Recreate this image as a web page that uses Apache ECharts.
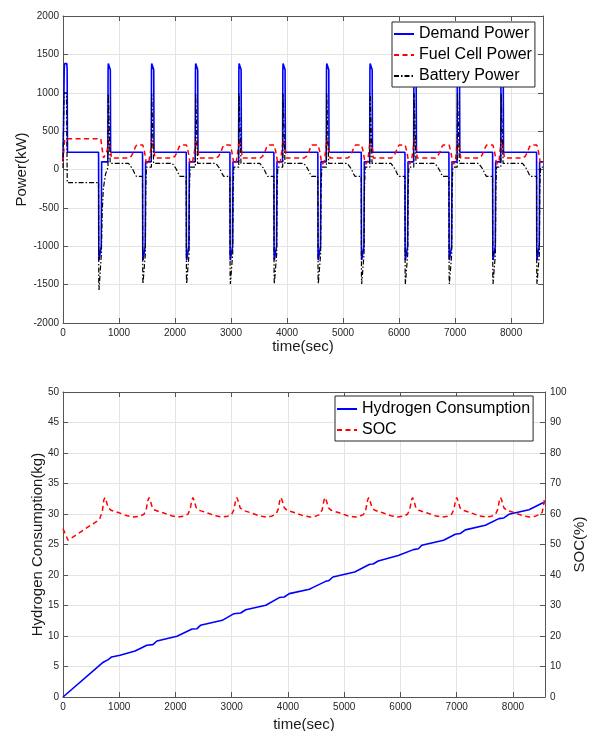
<!DOCTYPE html>
<html>
<head>
<meta charset="utf-8">
<title>Power and hydrogen</title>
<script src="https://cdn.jsdelivr.net/npm/echarts@6.0.0/dist/echarts.min.js"></script>
<style>
  html, body { margin: 0; padding: 0; background: #fff; }
  #main { width: 592px; height: 731px; }
</style>
</head>
<body>
<div id="main"></div>
<script>
// ---- data: [time (sec), value] ----
const demandPower = [
  [0,120],[22,1300],[28,1380],[68,1380],[74,1300],[80,225],
  [635,225],[639,-1100],[643,-1180],[677,-1180],[683,-1000],[690,100],
  [800,100],[805,1300],[809,1380],[841,1380],[845,1300],[850,225],
  [1420,225],[1424,-1100],[1428,-1180],[1462,-1180],[1468,-1000],[1475,100],
  [1575,100],[1580,1300],[1584,1380],[1616,1380],[1620,1300],[1625,225],
  [2200,225],[2204,-1100],[2208,-1180],[2242,-1180],[2248,-1000],[2255,100],
  [2360,100],[2365,1300],[2369,1380],[2401,1380],[2405,1300],[2410,225],
  [2980,225],[2984,-1100],[2988,-1180],[3022,-1180],[3028,-1000],[3035,100],
  [3135,100],[3140,1300],[3144,1380],[3176,1380],[3180,1300],[3185,225],
  [3765,225],[3769,-1100],[3773,-1180],[3807,-1180],[3813,-1000],[3820,100],
  [3920,100],[3925,1300],[3929,1380],[3961,1380],[3965,1300],[3970,225],
  [4550,225],[4554,-1100],[4558,-1180],[4592,-1180],[4598,-1000],[4605,100],
  [4700,100],[4705,1300],[4709,1380],[4741,1380],[4745,1300],[4750,225],
  [5325,225],[5329,-1100],[5333,-1180],[5367,-1180],[5373,-1000],[5380,100],
  [5475,100],[5480,1300],[5484,1380],[5516,1380],[5520,1300],[5525,225],
  [6105,225],[6109,-1100],[6113,-1180],[6147,-1180],[6153,-1000],[6160,100],
  [6260,100],[6265,1300],[6269,1380],[6301,1380],[6305,1300],[6310,225],
  [6890,225],[6894,-1100],[6898,-1180],[6932,-1180],[6938,-1000],[6945,100],
  [7035,100],[7040,1300],[7044,1380],[7076,1380],[7080,1300],[7085,225],
  [7670,225],[7674,-1100],[7678,-1180],[7712,-1180],[7718,-1000],[7725,100],
  [7815,100],[7820,1300],[7824,1380],[7856,1380],[7860,1300],[7865,225],
  [8455,225],[8459,-1100],[8463,-1180],[8497,-1180],[8503,-1000],[8510,100],
  [8570,100]
]

const fuelCellPower = [
  [0,100],[30,400],[675,400],[700,260],[725,150],[760,130],[790,250],[810,390],[837,390],[850,260],[865,150],
  [1180,150],[1220,175],[1260,230],[1290,290],[1315,318],[1425,318],[1455,230],[1485,100],[1505,70],[1535,110],[1565,250],[1585,390],[1612,390],[1625,260],[1640,150],
  [1960,150],[2000,175],[2040,230],[2070,290],[2095,318],[2205,318],[2235,230],[2265,100],[2285,70],[2315,110],[2350,250],[2370,390],[2397,390],[2410,260],[2425,150],
  [2740,150],[2780,175],[2820,230],[2850,290],[2875,318],[2985,318],[3015,230],[3045,100],[3065,70],[3095,110],[3125,250],[3145,390],[3172,390],[3185,260],[3200,150],
  [3525,150],[3565,175],[3605,230],[3635,290],[3660,318],[3770,318],[3800,230],[3830,100],[3850,70],[3880,110],[3910,250],[3930,390],[3957,390],[3970,260],[3985,150],
  [4310,150],[4350,175],[4390,230],[4420,290],[4445,318],[4555,318],[4585,230],[4615,100],[4635,70],[4665,110],[4690,250],[4710,390],[4737,390],[4750,260],[4765,150],
  [5085,150],[5125,175],[5165,230],[5195,290],[5220,318],[5330,318],[5360,230],[5390,100],[5410,70],[5440,110],[5465,250],[5485,390],[5512,390],[5525,260],[5540,150],
  [5865,150],[5905,175],[5945,230],[5975,290],[6000,318],[6110,318],[6140,230],[6170,100],[6190,70],[6220,110],[6250,250],[6270,390],[6297,390],[6310,260],[6325,150],
  [6650,150],[6690,175],[6730,230],[6760,290],[6785,318],[6895,318],[6925,230],[6955,100],[6975,70],[7005,110],[7025,250],[7045,390],[7072,390],[7085,260],[7100,150],
  [7430,150],[7470,175],[7510,230],[7540,290],[7565,318],[7675,318],[7705,230],[7735,100],[7755,70],[7785,110],[7805,250],[7825,390],[7852,390],[7865,260],[7880,150],
  [8215,150],[8255,175],[8295,230],[8325,290],[8350,318],[8460,318],[8490,230],[8520,100],[8540,70],[8570,100]
]

const batteryPower = [
  [0,20],[18,950],[24,1000],[62,1000],[68,500],[76,-170],[635,-170],[639,-1480],[643,-1570],[677,-1570],[685,-1100],[700,-550],[720,-250],[760,-60],[803,30],[809,990],[837,990],[843,80],
  [1170,80],[1200,50],[1230,20],[1260,-20],[1285,-60],[1310,-90],[1420,-90],[1424,-1400],[1428,-1490],[1462,-1490],[1470,-1100],[1478,-250],[1490,30],[1578,30],[1584,990],[1612,990],[1618,80],
  [1950,80],[1980,50],[2010,20],[2040,-20],[2065,-60],[2090,-90],[2200,-90],[2204,-1400],[2208,-1490],[2242,-1490],[2250,-1100],[2258,-250],[2270,30],[2363,30],[2369,990],[2397,990],[2403,80],
  [2730,80],[2760,50],[2790,20],[2820,-20],[2845,-60],[2870,-90],[2980,-90],[2984,-1400],[2988,-1490],[3022,-1490],[3030,-1100],[3038,-250],[3050,30],[3138,30],[3144,990],[3172,990],[3178,80],
  [3515,80],[3545,50],[3575,20],[3605,-20],[3630,-60],[3655,-90],[3765,-90],[3769,-1400],[3773,-1490],[3807,-1490],[3815,-1100],[3823,-250],[3835,30],[3923,30],[3929,990],[3957,990],[3963,80],
  [4300,80],[4330,50],[4360,20],[4390,-20],[4415,-60],[4440,-90],[4550,-90],[4554,-1400],[4558,-1490],[4592,-1490],[4600,-1100],[4608,-250],[4620,30],[4703,30],[4709,990],[4737,990],[4743,80],
  [5075,80],[5105,50],[5135,20],[5165,-20],[5190,-60],[5215,-90],[5325,-90],[5329,-1400],[5333,-1490],[5367,-1490],[5375,-1100],[5383,-250],[5395,30],[5478,30],[5484,990],[5512,990],[5518,80],
  [5855,80],[5885,50],[5915,20],[5945,-20],[5970,-60],[5995,-90],[6105,-90],[6109,-1400],[6113,-1490],[6147,-1490],[6155,-1100],[6163,-250],[6175,30],[6263,30],[6269,990],[6297,990],[6303,80],
  [6640,80],[6670,50],[6700,20],[6730,-20],[6755,-60],[6780,-90],[6890,-90],[6894,-1400],[6898,-1490],[6932,-1490],[6940,-1100],[6948,-250],[6960,30],[7038,30],[7044,990],[7072,990],[7078,80],
  [7420,80],[7450,50],[7480,20],[7510,-20],[7535,-60],[7560,-90],[7670,-90],[7674,-1400],[7678,-1490],[7712,-1490],[7720,-1100],[7728,-250],[7740,30],[7818,30],[7824,990],[7852,990],[7858,80],
  [8205,80],[8235,50],[8265,20],[8295,-20],[8320,-60],[8345,-90],[8455,-90],[8459,-1400],[8463,-1490],[8497,-1490],[8505,-1100],[8513,-250],[8525,30],[8570,30]
]

const hydrogenUse = [
  [0,0],[716,5.7],[805,6.13],[865,6.56],[1014,6.84],[1282,7.54],[1491,8.48],[1598,8.59],[1670,9.18],
  [2027,9.95],[2295,11.15],[2384,11.2],[2444,11.75],[2832,12.57],[3040,13.66],[3159,13.77],[3248,14.3],
  [3606,15.03],[3845,16.3],[3934,16.4],[4024,16.95],[4381,17.66],[4438,17.93],[4679,19.0],[4721,19.05],
  [4799,19.67],[5186,20.5],[5454,21.75],[5514,21.8],[5604,22.3],[5961,23.2],[6230,24.16],[6320,24.3],
  [6379,24.87],[6767,25.7],[6975,26.67],[7064,26.8],[7154,27.4],[7510,28.15],[7749,29.24],[7839,29.35],
  [7928,29.95],[8286,30.7],[8524,31.8],[8570,31.9]
]

const socLevel = [
  [0,55.2],[90,51.4],[650,58.2],[700,61],[725,64.5],[745,65.4],[765,64.5],[805,62],[855,61.2],[995,60.4],[1145,59.4],[1265,59.0],[1365,59.3],
  [1440,59.9],[1480,61.5],[1510,64.5],[1530,65.4],[1550,64.5],[1590,62],[1640,61.2],[1780,60.4],[1930,59.4],[2050,59.0],[2150,59.3],
  [2220,59.9],[2260,61.5],[2290,64.5],[2310,65.4],[2330,64.5],[2370,62],[2420,61.2],[2560,60.4],[2710,59.4],[2830,59.0],[2930,59.3],
  [3000,59.9],[3040,61.5],[3070,64.5],[3090,65.4],[3110,64.5],[3150,62],[3200,61.2],[3340,60.4],[3490,59.4],[3610,59.0],[3710,59.3],
  [3785,59.9],[3825,61.5],[3855,64.5],[3875,65.4],[3895,64.5],[3935,62],[3985,61.2],[4125,60.4],[4275,59.4],[4395,59.0],[4495,59.3],
  [4570,59.9],[4610,61.5],[4640,64.5],[4660,65.4],[4680,64.5],[4720,62],[4770,61.2],[4910,60.4],[5060,59.4],[5180,59.0],[5280,59.3],
  [5345,59.9],[5385,61.5],[5415,64.5],[5435,65.4],[5455,64.5],[5495,62],[5545,61.2],[5685,60.4],[5835,59.4],[5955,59.0],[6055,59.3],
  [6125,59.9],[6165,61.5],[6195,64.5],[6215,65.4],[6235,64.5],[6275,62],[6325,61.2],[6465,60.4],[6615,59.4],[6735,59.0],[6835,59.3],
  [6910,59.9],[6950,61.5],[6980,64.5],[7000,65.4],[7020,64.5],[7060,62],[7110,61.2],[7250,60.4],[7400,59.4],[7520,59.0],[7620,59.3],
  [7690,59.9],[7730,61.5],[7760,64.5],[7780,65.4],[7800,64.5],[7840,62],[7890,61.2],[8030,60.4],[8180,59.4],[8300,59.0],[8400,59.3],
  [8475,59.9],[8520,60.5],[8545,63],[8565,65.4],[8570,65.4]
]

const powerLegend = ['Demand Power', 'Fuel Cell Power', 'Battery Power']
const hydrogenLegend = ['Hydrogen Consumption', 'SOC']
const timeMax = 8570

// ---- shared styles ----
const FONT = 'Liberation Sans, Arial, Helvetica, sans-serif'
const axisColor = '#555'
const labelColor = '#262626'
const gridColor = '#e4e4e4'

// plain numbers, no thousands separator
const plain = v => String(v)

// tick labels
function labels(margin, extra) {
  return Object.assign({ show: true, margin: margin, color: labelColor, fontSize: 10,
    fontFamily: FONT, formatter: plain }, extra)
}

// one axis with MATLAB-like inward ticks
function axis(extra) {
  return Object.assign({
    type: 'value',
    nameMoveOverlap: false,
    axisLine: { show: true, onZero: false, lineStyle: { color: axisColor, width: 1 } },
    axisTick: { show: true, inside: true, length: 5, lineStyle: { color: axisColor } },
    axisLabel: { show: false },
    splitLine: { show: false },
    nameTextStyle: { color: '#1a1a1a', fontSize: 15, fontFamily: FONT }
  }, extra)
}

const split = { show: true, lineStyle: { color: gridColor, width: 1 } }

const chart = echarts.init(document.getElementById('main'), null, { renderer: 'canvas' })

// legend: keep the line sample, hide the marker
const legendBase = {
  orient: 'vertical',
  itemWidth: 20, itemHeight: 14, itemGap: 3,
  itemStyle: { color: 'rgba(0,0,0,0)', borderColor: 'rgba(0,0,0,0)', borderWidth: 0, opacity: 0 },
  borderColor: '#262626', borderWidth: 1, borderRadius: 0, backgroundColor: '#fff',
  textStyle: { fontSize: 16, color: '#000', lineHeight: 18, fontFamily: FONT }
}

const option = {
  animation: false,
  backgroundColor: '#fff',
  textStyle: { fontFamily: FONT },
  grid: [
    { left: 63, top: 16, width: 480, height: 307, outerBoundsMode: 'none' },
    { left: 63, top: 392, width: 482, height: 305, outerBoundsMode: 'none' }
  ],
  xAxis: [
    // top chart, bottom axis
    axis({ gridIndex: 0, position: 'bottom', min: 0, max: timeMax, interval: 1000,
      name: 'time(sec)', nameLocation: 'middle', nameGap: 16,
      axisLabel: labels(5, { showMaxLabel: false }), splitLine: split }),
    // top chart, top frame
    axis({ gridIndex: 0, position: 'top', min: 0, max: timeMax, interval: 1000 }),
    // bottom chart, bottom axis
    axis({ gridIndex: 1, position: 'bottom', min: 0, max: timeMax, interval: 1000,
      name: 'time(sec)', nameLocation: 'middle', nameGap: 20,
      axisLabel: labels(5, { showMaxLabel: false }), splitLine: split }),
    // bottom chart, top frame
    axis({ gridIndex: 1, position: 'top', min: 0, max: timeMax, interval: 1000 })
  ],
  yAxis: [
    axis({ gridIndex: 0, position: 'left', min: -2000, max: 2000, interval: 500,
      name: 'Power(kW)', nameLocation: 'middle', nameGap: 34,
      axisLabel: labels(4), splitLine: split }),
    axis({ gridIndex: 0, position: 'right', min: -2000, max: 2000, interval: 500 }),
    axis({ gridIndex: 1, position: 'left', min: 0, max: 50, interval: 5,
      name: 'Hydrogen Consumption(kg)', nameLocation: 'middle', nameGap: 18,
      axisLabel: labels(4), splitLine: split }),
    axis({ gridIndex: 1, position: 'right', min: 0, max: 100, interval: 10,
      name: 'SOC(%)', nameLocation: 'middle', nameGap: 27,
      axisLabel: labels(5) })
  ],
  legend: [
    Object.assign({}, legendBase, { data: powerLegend, left: 392, top: 22, padding: [3, 3, 2, 1] }),
    Object.assign({}, legendBase, { data: hydrogenLegend, left: 335, top: 396, padding: [4, 3, 2, 1] })
  ],
  series: [
    { name: 'Demand Power', type: 'line', xAxisIndex: 0, yAxisIndex: 0, data: demandPower,
      showSymbol: false, color: '#0000ff',
      lineStyle: { color: '#0000ff', width: 1.6 } },
    { name: 'Fuel Cell Power', type: 'line', xAxisIndex: 0, yAxisIndex: 0, data: fuelCellPower,
      showSymbol: false, color: '#ff0000',
      lineStyle: { color: '#ff0000', width: 1.5, type: [5, 3.5] } },
    { name: 'Battery Power', type: 'line', xAxisIndex: 0, yAxisIndex: 0, data: batteryPower,
      showSymbol: false, color: '#000',
      lineStyle: { color: '#000', width: 1.2, type: [5, 2, 1.5, 2] } },
    { name: 'Hydrogen Consumption', type: 'line', xAxisIndex: 2, yAxisIndex: 2, data: hydrogenUse,
      showSymbol: false, color: '#0000ff',
      lineStyle: { color: '#0000ff', width: 1.6 } },
    { name: 'SOC', type: 'line', xAxisIndex: 2, yAxisIndex: 3, data: socLevel,
      showSymbol: false, color: '#ff0000',
      lineStyle: { color: '#ff0000', width: 1.5, type: [5, 3.5] } }
  ]
}

chart.setOption(option)
</script>
</body>
</html>
